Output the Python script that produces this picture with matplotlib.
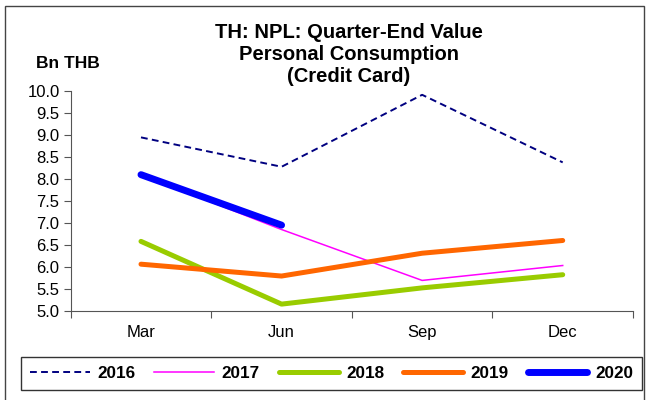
import matplotlib
matplotlib.use("Agg")
import matplotlib.pyplot as plt
from matplotlib.patches import Rectangle

plt.rcParams['font.family'] = ['Liberation Sans', 'DejaVu Sans']

quarters = ["Mar", "Jun", "Sep", "Dec"]
y2016 = [8.95, 8.28, 9.92, 8.38]
y2017 = [8.10, 6.85, 5.69, 6.03]
y2018 = [6.58, 5.15, 5.52, 5.82]
y2019 = [6.06, 5.79, 6.31, 6.60]
y2020 = [8.10, 6.95]
yticks = [5.0, 5.5, 6.0, 6.5, 7.0, 7.5, 8.0, 8.5, 9.0, 9.5, 10.0]

fig = plt.figure(figsize=(6.49, 4.0), dpi=100)
fig.patch.set_facecolor("white")

# outer frame
fig.add_artist(Rectangle((5 / 649, -0.05), 639 / 649, 1 - 6 / 400 + 0.05,
                         transform=fig.transFigure, fill=False,
                         edgecolor="#444444", linewidth=1.0))

ax = fig.add_axes([70.7 / 649, 1 - 310.7 / 400, (633 - 70.7) / 649, (310.7 - 91.3) / 400])
x = list(range(len(quarters)))

ax.plot(x, y2016, color="#000080", lw=1.4, ls=(0, (3.5, 2.2)), label="2016")
ax.plot(x, y2017, color="#FF00FF", lw=1.1, label="2017")
ax.plot(x, y2018, color="#99CC00", lw=3.6, solid_capstyle="round", label="2018")
ax.plot(x, y2019, color="#FF6600", lw=3.6, solid_capstyle="round", label="2019")
ax.plot(x[:len(y2020)], y2020, color="#0000FF", lw=5.0, solid_capstyle="round", label="2020")

ax.set_xlim(-0.5, 3.5)
ax.set_ylim(5.0, 10.0)
ax.set_yticks(yticks)
ax.set_yticklabels([f"{v:.1f}" for v in yticks], fontsize=12)
ax.set_xticks([-0.5, 0.5, 1.5, 2.5, 3.5])
ax.set_xticklabels([])
ax.set_xticks(x, minor=True)
ax.set_xticklabels(quarters, minor=True, fontsize=12)
ax.tick_params(axis="x", which="minor", length=0, pad=10)
ax.tick_params(axis="x", which="major", length=5, direction="out", color="#555555")
ax.tick_params(axis="y", length=5, direction="out", color="#555555", pad=3)
for s in ["top", "right"]:
    ax.spines[s].set_visible(False)
for s in ["left", "bottom"]:
    ax.spines[s].set_color("#555555")
ax.set_facecolor("none")

fig.text(349 / 649, 1 - 55 / 400, "TH: NPL: Quarter-End Value\nPersonal Consumption\n(Credit Card)",
         ha="center", va="center", fontsize=14.5, fontweight="bold", linespacing=1.2)
fig.text(68 / 649, 1 - 63 / 400, "Bn THB", ha="center", va="center",
         fontsize=12.5, fontweight="bold")

leg = fig.legend(loc="center", bbox_to_anchor=(331.5 / 649, 1 - 373.5 / 400), ncol=5,
                 frameon=True, fancybox=False, edgecolor="black",
                 prop={"weight": "bold", "size": 12.3}, handlelength=3.5,
                 columnspacing=1.1, handletextpad=0.45, borderpad=0.55,
                 borderaxespad=0)
leg.get_frame().set_linewidth(1.0)

fig.savefig("out.png", dpi=100, facecolor="white")
